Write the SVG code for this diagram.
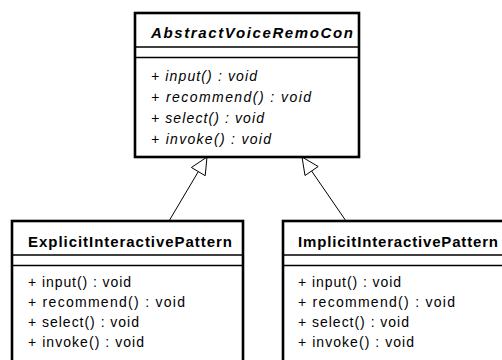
<svg xmlns="http://www.w3.org/2000/svg" width="502" height="360" viewBox="0 0 502 360">
  <style>
    .box { fill: #ffffff; stroke: #000000; stroke-width: 2.6; }
    .sep { stroke: #000000; stroke-width: 1.3; fill: none; }
    .title { font-family: "Liberation Sans", Arial, sans-serif; font-size: 15px; font-weight: bold; fill: #000000; }
    .op { font-family: "Liberation Sans", Arial, sans-serif; font-size: 14px; fill: #000000; }
    .abstract { font-style: italic; }
    .edge { stroke: #000000; stroke-width: 1; fill: none; }
    .head { fill: #ffffff; stroke: #000000; stroke-width: 1; }
  </style>
  <rect width="502" height="360" fill="#ffffff"/>

  <!-- generalization connectors -->
  <g id="connectors">
    <line class="edge" x1="169" y1="221" x2="198.3" y2="171.6"/>
    <polygon class="head" points="207,157 205.2,175.7 191.4,167.5"/>
    <line class="edge" x1="346" y1="221" x2="311.6" y2="171"/>
    <polygon class="head" points="302,157 318.2,166.5 305,175.5"/>
  </g>

  <!-- abstract base class -->
  <g id="AbstractVoiceRemoCon">
    <rect class="box" x="135" y="13" width="224" height="144"/>
    <line class="sep" x1="135" y1="47" x2="359" y2="47"/>
    <line class="sep" x1="135" y1="57.5" x2="359" y2="57.5"/>
    <text class="title abstract" x="151" y="37.5" textLength="202" lengthAdjust="spacing">AbstractVoiceRemoCon</text>
    <text class="op abstract" x="151" y="81" textLength="106" lengthAdjust="spacing">+ input() : void</text>
    <text class="op abstract" x="151" y="102" textLength="160" lengthAdjust="spacing">+ recommend() : void</text>
    <text class="op abstract" x="151" y="123" textLength="113" lengthAdjust="spacing">+ select() : void</text>
    <text class="op abstract" x="151" y="143.5" textLength="120" lengthAdjust="spacing">+ invoke() : void</text>
  </g>

  <!-- explicit subclass -->
  <g id="ExplicitInteractivePattern">
    <rect class="box" x="12" y="221" width="231" height="150"/>
    <line class="sep" x1="12" y1="255" x2="243" y2="255"/>
    <line class="sep" x1="12" y1="265.5" x2="243" y2="265.5"/>
    <text class="title" x="28" y="246.5" textLength="204" lengthAdjust="spacing">ExplicitInteractivePattern</text>
    <text class="op" x="28" y="287" textLength="103" lengthAdjust="spacing">+ input() : void</text>
    <text class="op" x="28" y="307" textLength="157" lengthAdjust="spacing">+ recommend() : void</text>
    <text class="op" x="28" y="327" textLength="111" lengthAdjust="spacing">+ select() : void</text>
    <text class="op" x="28" y="347" textLength="116" lengthAdjust="spacing">+ invoke() : void</text>
  </g>

  <!-- implicit subclass -->
  <g id="ImplicitInteractivePattern">
    <rect class="box" x="283" y="221" width="240" height="150"/>
    <line class="sep" x1="283" y1="255" x2="523" y2="255"/>
    <line class="sep" x1="283" y1="265.5" x2="523" y2="265.5"/>
    <text class="title" x="298" y="246.5" textLength="200" lengthAdjust="spacing">ImplicitInteractivePattern</text>
    <text class="op" x="298" y="287" textLength="103" lengthAdjust="spacing">+ input() : void</text>
    <text class="op" x="298" y="307" textLength="157" lengthAdjust="spacing">+ recommend() : void</text>
    <text class="op" x="298" y="327" textLength="111" lengthAdjust="spacing">+ select() : void</text>
    <text class="op" x="298" y="347" textLength="116" lengthAdjust="spacing">+ invoke() : void</text>
  </g>
</svg>
